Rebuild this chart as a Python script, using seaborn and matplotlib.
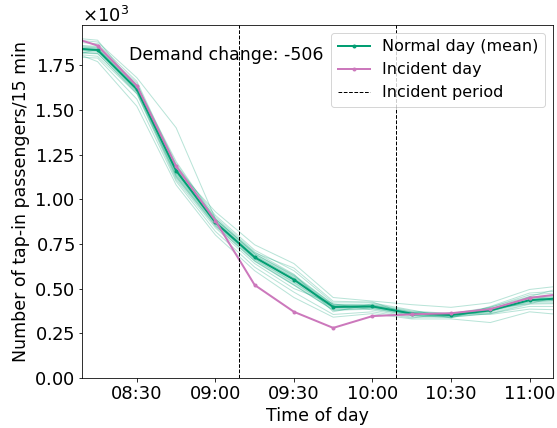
import numpy as np
import pandas as pd
import matplotlib
matplotlib.use("Agg")
import matplotlib.pyplot as plt
import matplotlib.dates as mdates
from matplotlib.ticker import MultipleLocator
import seaborn as sns

# 15-minute tap-in counts, 08:00 to 11:15
times = ["08:00", "08:15", "08:30", "08:45", "09:00", "09:15", "09:30",
         "09:45", "10:00", "10:15", "10:30", "10:45", "11:00", "11:15"]

# Comparable normal days (one row per day)
normal_days = [
    [1855, 1770, 1520, 1080, 800, 600, 450, 340, 360, 330, 330, 310, 370, 350],
    [1800, 1790, 1560, 1100, 820, 620, 480, 355, 370, 335, 365, 355, 385, 380],
    [1820, 1800, 1590, 1110, 840, 640, 500, 415, 380, 340, 340, 360, 400, 400],
    [1830, 1815, 1600, 1120, 850, 655, 520, 380, 390, 350, 345, 370, 455, 420],
    [1840, 1830, 1610, 1130, 860, 665, 535, 390, 395, 355, 350, 375, 425, 440],
    [1850, 1835, 1620, 1140, 870, 675, 550, 400, 400, 360, 352, 380, 435, 450],
    [1780, 1840, 1630, 1150, 880, 685, 560, 405, 405, 365, 355, 385, 445, 460],
    [1860, 1845, 1640, 1160, 890, 695, 570, 410, 410, 370, 358, 390, 415, 470],
    [1870, 1855, 1650, 1170, 900, 705, 580, 370, 415, 375, 360, 395, 465, 480],
    [1885, 1870, 1660, 1190, 910, 715, 600, 420, 420, 380, 335, 400, 475, 490],
    [1910, 1890, 1620, 1170, 930, 745, 640, 450, 430, 410, 395, 420, 495, 520],
    [1900, 1880, 1680, 1400, 890, 700, 615, 429, 425, 350, 339, 396, 455, 516],
]

# Day with the disruption
incident_day = [1930, 1860, 1635, 1185, 880, 520, 370, 280, 346, 356, 362, 385, 448, 475]

incident_start = "09:09"
incident_end = "10:09"

day = "2023-05-10 "
t = pd.to_datetime([day + s for s in times])
t_start = pd.Timestamp(day + incident_start)
t_end = pd.Timestamp(day + incident_end)

normal_df = pd.DataFrame(
    [(i, t[j], v) for i, row in enumerate(normal_days) for j, v in enumerate(row)],
    columns=["day", "time", "passengers"],
)
incident_df = pd.DataFrame({"time": t, "passengers": incident_day})

# Demand change during the incident window
mean_normal = normal_df.groupby("time")["passengers"].mean()
in_window = (t >= t_start) & (t <= t_end)
demand_change = (incident_df.set_index("time")["passengers"] - mean_normal)[in_window].sum()

plt.rcParams["font.family"] = ["DejaVu Sans"]
fs_label = 17.4
fs_tick = 18
fs_legend = 16

green = "#029e73"
pink = "#cc78bc"

fig, ax = plt.subplots(figsize=(557 / 72, 428 / 72), dpi=72)
fig.subplots_adjust(left=0.147, right=0.993, top=0.9416, bottom=0.117)

sns.lineplot(data=normal_df, x="time", y="passengers", units="day", estimator=None,
             color=green, alpha=0.28, lw=1, legend=False, ax=ax)
sns.lineplot(data=normal_df, x="time", y="passengers", color=green, lw=2,
             marker="o", markersize=4, markeredgewidth=0, errorbar=("ci", 95),
             seed=0, label="Normal day (mean)", ax=ax)
sns.lineplot(data=incident_df, x="time", y="passengers", color=pink, lw=2,
             marker="o", markersize=4, markeredgewidth=0,
             label="Incident day", ax=ax)

ax.axvline(t_start, color="k", ls="--", lw=1, label="Incident period")
ax.axvline(t_end, color="k", ls="--", lw=1)

ax.text(0.1, 0.9, f"Demand change: {demand_change:.0f}", transform=ax.transAxes,
        fontsize=fs_label)

ax.set_xlim(t_start - pd.Timedelta(hours=1), t_end + pd.Timedelta(hours=1))
ax.set_ylim(0, 1975)
ax.xaxis.set_major_locator(mdates.MinuteLocator(byminute=[0, 30]))
ax.xaxis.set_major_formatter(mdates.DateFormatter("%H:%M"))
ax.yaxis.set_major_locator(MultipleLocator(250))
ax.ticklabel_format(axis="y", style="sci", scilimits=(3, 3), useMathText=True)
ax.yaxis.get_offset_text().set_fontsize(fs_tick)

ax.tick_params(labelsize=fs_tick)
ax.set_xlabel("Time of day", fontsize=fs_label)
ax.set_ylabel("Number of tap-in passengers/15 min", fontsize=fs_label)

ax.legend(loc="upper right", fontsize=fs_legend)

fig.savefig("out.png", dpi=72)
